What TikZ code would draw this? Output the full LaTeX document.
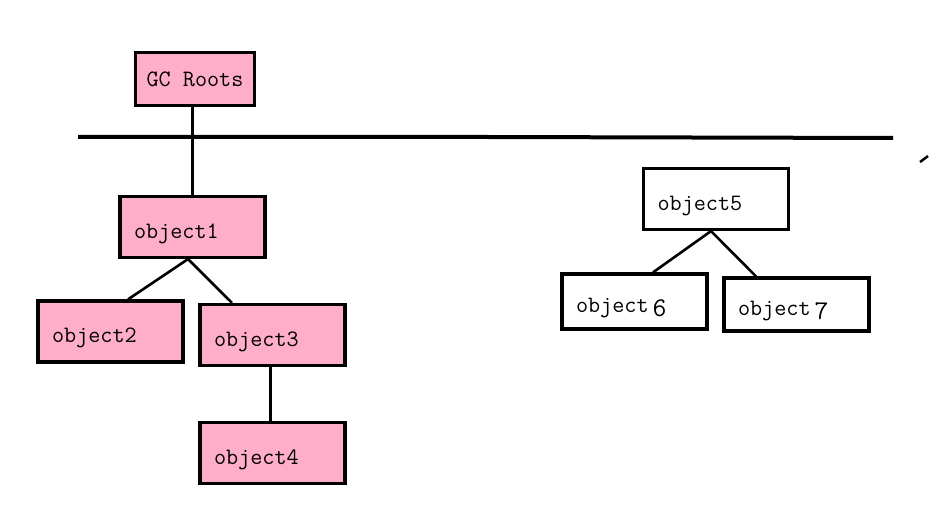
\documentclass[tikz,border=0pt]{standalone}
\definecolor{gcpink}{RGB}{255,174,201}
\begin{document}
\begin{tikzpicture}[x=1pt,y=-1pt,line join=miter,font=\ttfamily\fontsize{23.5}{23.5}\selectfont,
	obj/.style={draw,line width=3.2pt,fill=gcpink,text width=117pt,inner xsep=14pt,align=left,minimum height=61pt,text height=27pt,text depth=4pt},
	link/.style={line width=2.6pt}]
	\useasboundingbox (0,0) rectangle (946,518);
	%Roots
	\node[draw,line width=3.2pt,fill=gcpink,minimum width=119pt,minimum height=53pt,inner sep=0pt] (gc) at (195,79) {GC Roots};
	\draw[line width=4pt] (78,137)--(487,137)--(893,138);
	%reachable objects
	\node[obj] (o1) at (192.5,227) {object1};
	\node[obj] (o2) at (110.5,331.5) {object2};
	\node[obj] (o3) at (272.5,335) {object3};
	\node[obj] (o4) at (272.5,453) {object4};
	%unreachable objects
	\node[obj,fill=white] (o5) at (716,199) {object5};
	\node[obj,fill=white,minimum height=55pt] (o6) at (634.5,301.5) {object\,\raisebox{-4pt}{\fontsize{27}{27}\selectfont 6}};
	\node[obj,fill=white,minimum height=53pt] (o7) at (796.5,304.5) {object\,\raisebox{-4pt}{\fontsize{27}{27}\selectfont 7}};
	%links
	\draw[link] (gc.south -| o1.north)--(o1.north);
	\draw[link] ([xshift=-4.5pt]o1.south)--([xshift=17.5pt]o2.north);
	\draw[link] ([xshift=-4.5pt]o1.south)--([xshift=-40.5pt]o3.north);
	\draw[link] ([xshift=-2pt]o3.south)--([xshift=-2pt]o4.north);
	\draw[link] ([xshift=-5pt]o5.south)--([xshift=18.5pt]o6.north);
	\draw[link] ([xshift=-5pt]o5.south)--([xshift=-40.5pt]o7.north);
	\draw[line width=2.5pt] (920,162)--(928,156);
\end{tikzpicture}
\end{document}
